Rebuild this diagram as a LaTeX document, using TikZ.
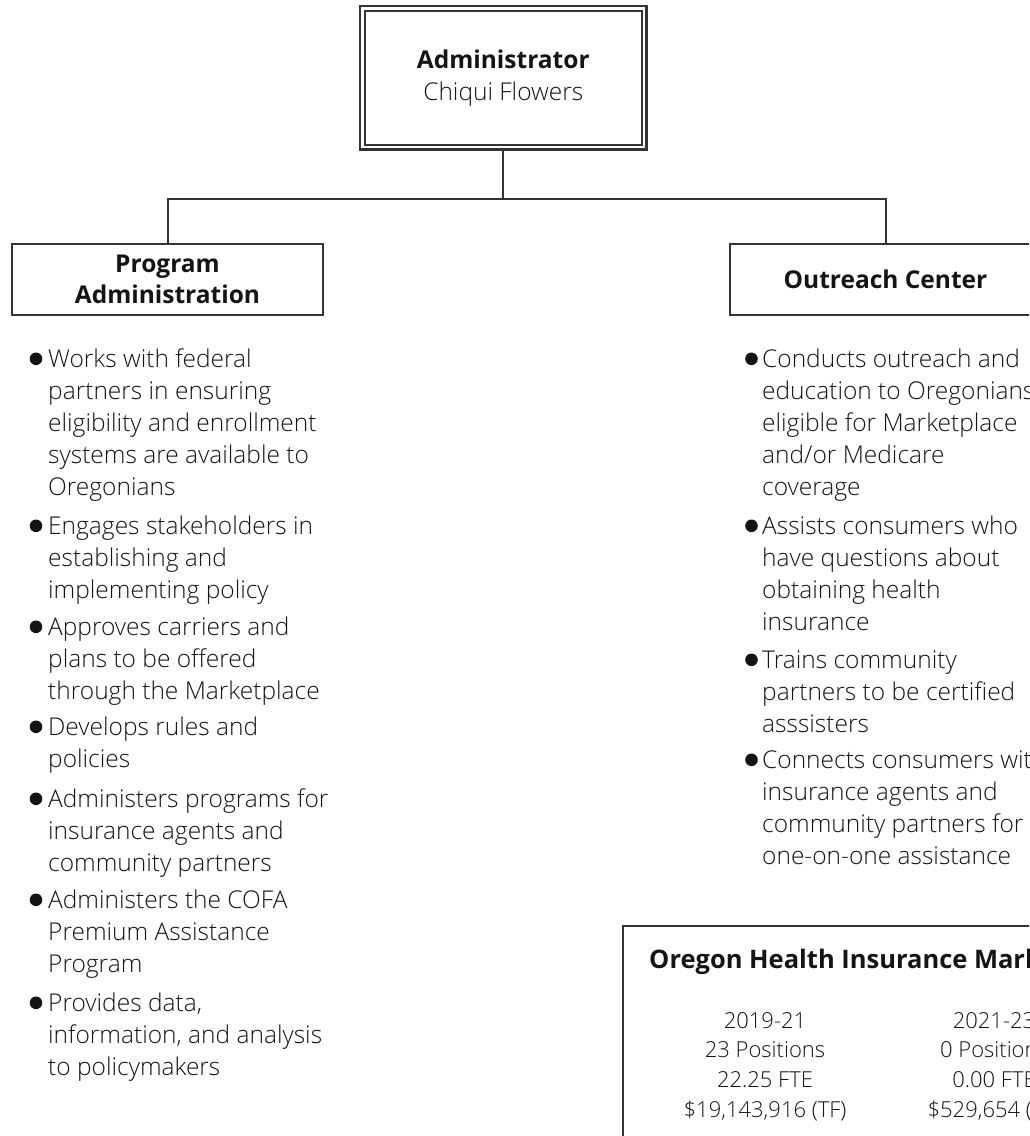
\documentclass[tikz,border=0pt]{standalone}
\usepackage{fontspec}
\setmainfont{Open Sans}
\IfFontExistsTF{Open Sans Light}{\newfontfamily\lightfont{Open Sans Light}}{\newfontfamily\lightfont{Open Sans}}
\definecolor{ink}{HTML}{141414}
\definecolor{linec}{HTML}{333333}
\newcommand\itemtext[1]{\parbox[t]{320pt}{\lightfont\fontsize{24.5}{32.2}\selectfont\raggedright #1}}
\newcommand\coltext[1]{\parbox[t]{220pt}{\lightfont\fontsize{22}{29.7}\selectfont\centering #1}}
\begin{document}
\begin{tikzpicture}[x=1pt,y=-1pt,
  conn/.style={draw=linec,line width=2pt},
  unitbox/.style={draw=linec,line width=2pt,minimum width=311pt,minimum height=71pt,
    inner sep=0pt,font=\fontsize{24.5}{31}\selectfont\bfseries,align=center,text=ink},
  itm/.style={anchor=base west,inner sep=0pt,text=ink},
  colnode/.style={anchor=base,inner sep=0pt,text=ink},
  bul/.style={fill=ink}]
\useasboundingbox (0,0) rectangle (1029,1136);
\clip (0,0) rectangle (1029,1136);

% Administrator
\node[draw=linec, double, line width=2.2pt, double distance=2.6pt,
  minimum width=281.5pt, minimum height=138.5pt, outer sep=3.5pt, inner sep=0pt,
  align=center, text=ink, font=\fontsize{24.5}{32}\selectfont] (admin) at (503.3,77.8)
  {{\bfseries Administrator}\\{\lightfont Chiqui Flowers}};

% Units
\node[unitbox] (prog) at (167.5,279.5) {Program\\Administration};
\node[unitbox] (outr) at (885.5,279.5) {Outreach Center};

% Connectors
\coordinate (j) at (503.3,199);
\draw[conn] (admin.south) -- (j);
\draw[conn] (prog.north) |- (j) -| (outr.north);

% Program Administration items
\node[itm] (p1) at (48,367) {\itemtext{Works with federal\\partners in ensuring\\eligibility and enrollment\\systems are available to\\Oregonians}};
\node[itm] (p2) at (48,534) {\itemtext{Engages stakeholders in\\establishing and\\implementing policy}};
\node[itm] (p3) at (48,635) {\itemtext{Approves carriers and\\plans to be offered\\through the Marketplace}};
\node[itm] (p4) at (48,735) {\itemtext{Develops rules and\\policies}};
\node[itm] (p5) at (48,807) {\itemtext{Administers programs for\\insurance agents and\\community partners}};
\node[itm] (p6) at (48,908) {\itemtext{Administers the COFA\\Premium Assistance\\Program}};
\node[itm] (p7) at (48,1011) {\itemtext{Provides data,\\information, and analysis\\to policymakers}};
\foreach \n in {p1,p2,p3,p4,p5,p6,p7}
  \fill[bul] ([xshift=-12pt,yshift=8.2pt]\n.base west) circle (6.3pt);

% Outreach Center items
\node[itm] (o1) at (762,367) {\itemtext{Conducts outreach and\\education to Oregonians\\eligible for Marketplace\\and/or Medicare\\coverage}};
\node[itm] (o2) at (762,534) {\itemtext{Assists consumers who\\have questions about\\obtaining health\\insurance}};
\node[itm] (o3) at (762,668) {\itemtext{Trains community\\partners to be certified\\asssisters}};
\node[itm] (o4) at (762,768) {\itemtext{Connects consumers with\\insurance agents and\\community partners for\\one-on-one assistance}};
\foreach \n in {o1,o2,o3,o4}
  \fill[bul] ([xshift=-10.5pt,yshift=8.2pt]\n.base west) circle (6.3pt);

% Budget box
\node[draw=linec, line width=2pt, anchor=north west, minimum width=700pt,
  minimum height=400pt, inner sep=0pt] (mkt) at (622,925) {};
\node[anchor=base west, inner sep=0pt, text=ink, font=\fontsize{25.5}{30}\selectfont\bfseries]
  (mktt) at (649,968) {Oregon Health Insurance Marketplace};
\node[colnode] (c1) at (765,1028) {\coltext{2019-21\\23 Positions\\22.25 FTE\\\$19,143,916 (TF)}};
\node[colnode] (c2) at (994,1028) {\coltext{2021-23\\0 Positions\\0.00 FTE\\\$529,654 (TF)}};
\end{tikzpicture}
\end{document}
